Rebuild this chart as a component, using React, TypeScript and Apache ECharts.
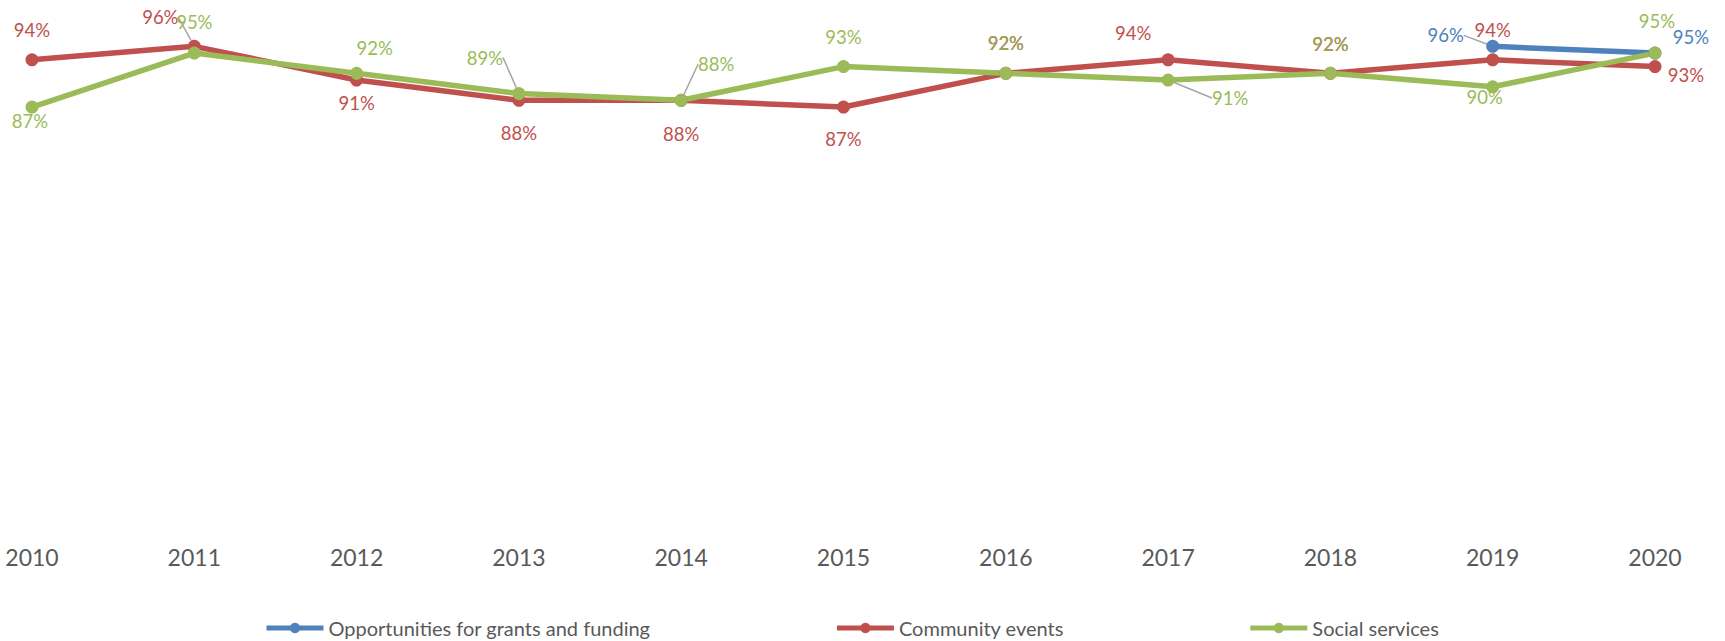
import React, { useEffect, useRef } from "react";
import * as echarts from "echarts";

// ---- data ----
const years = ["2010", "2011", "2012", "2013", "2014", "2015", "2016", "2017", "2018", "2019", "2020"];
const seriesNames = ["Opportunities for grants and funding", "Community events", "Social services"];
const grantsFunding = [null, null, null, null, null, null, null, null, null, 0.96, 0.95];
const communityEvents = [0.94, 0.96, 0.91, 0.88, 0.88, 0.87, 0.92, 0.94, 0.92, 0.94, 0.93];
const socialServices = [0.87, 0.95, 0.92, 0.89, 0.88, 0.93, 0.92, 0.91, 0.92, 0.9, 0.95];

// ---- label layout (offsets of label centres from points, in px) ----
const blueOffsets = [[0, 0], [0, 0], [0, 0], [0, 0], [0, 0], [0, 0], [0, 0], [0, 0], [0, 0], [-47, -11], [36, -16]];
const redOffsets = [[0, -30], [-34, -29], [0, 23], [0, 33], [0, 34], [0, 32], [0, -30], [-35, -27], [0, -29], [0, -30], [31, 8]];
const greenOffsets = [[-2, 14], [0, -31], [18, -25], [-34, -36], [35, -36], [0, -30], [0, -30], [62, 18], [0, -29], [-8, 10], [2, -32]];
const blueLeaders = [9];
const redLeaders = [1];
const greenLeaders = [3, 4, 7];
const oliveLabels = [6, 8];

const BLUE = "#4F81BD";
const RED = "#C0504D";
const GREEN = "#9BBB59";
const OLIVE = "#9CA552";
const FONT = "Lato";

function makeSeries(name: string, values: (number | null)[], color: string, offsets: number[][], leaders: number[], olive: number[] = []) {
  return {
    name,
    type: "line",
    data: values.map((v, i) => {
      if (v === null) return null;
      const item: any = { value: v, labelLine: { show: leaders.includes(i) } };
      if (olive.includes(i)) item.label = { color: OLIVE };
      return item;
    }),
    symbol: "circle",
    symbolSize: 13,
    lineStyle: { color, width: 5.5 },
    itemStyle: { color },
    label: {
      show: true,
      position: "inside",
      formatter: (p: any) => Math.round(p.value * 100) + "%",
      color,
      fontSize: 18.5,
      fontFamily: FONT,
      align: "center",
      verticalAlign: "middle",
    },
    labelLine: { show: false, lineStyle: { color: "#A6A6A6", width: 1.5 } },
    labelLayout: (params: any) => {
      const off = offsets[params.dataIndex] || [0, 0];
      return { dx: off[0], dy: off[1] };
    },
    emphasis: { disabled: true },
    connectNulls: false,
  };
}

export default function App() {
  const ref = useRef<HTMLDivElement>(null);
  useEffect(() => {
    if (!ref.current) return;
    const chart = echarts.init(ref.current, undefined, { renderer: "svg" });
    chart.setOption({
      animation: false,
      textStyle: { fontFamily: FONT },
      grid: { left: 32, right: 70, top: 19.4, bottom: 102.6 },
      xAxis: {
        type: "category",
        data: years,
        boundaryGap: false,
        axisLine: { show: false },
        axisTick: { show: false },
        splitLine: { show: false },
        axisLabel: { color: "#595959", fontSize: 23, fontFamily: FONT, margin: 7 },
      },
      yAxis: {
        type: "value",
        min: 0.23,
        max: 1,
        show: false,
        splitLine: { show: false },
      },
      legend: {
        data: seriesNames,
        left: 264,
        top: 617,
        padding: 0,
        itemWidth: 57,
        itemHeight: 13,
        itemGap: 184,
        lineStyle: { width: 5 },
        textStyle: { color: "#595959", fontSize: 20, fontFamily: FONT, lineHeight: 22 },
        selectedMode: false,
      },
      series: [
        makeSeries(seriesNames[0], grantsFunding, BLUE, blueOffsets, blueLeaders),
        makeSeries(seriesNames[1], communityEvents, RED, redOffsets, redLeaders),
        makeSeries(seriesNames[2], socialServices, GREEN, greenOffsets, greenLeaders, oliveLabels),
      ],
    });
    return () => chart.dispose();
  }, []);
  return <div ref={ref} style={{ position: "absolute", left: 0, top: 0, width: 1725, height: 641, background: "#fff" }} />;
}
